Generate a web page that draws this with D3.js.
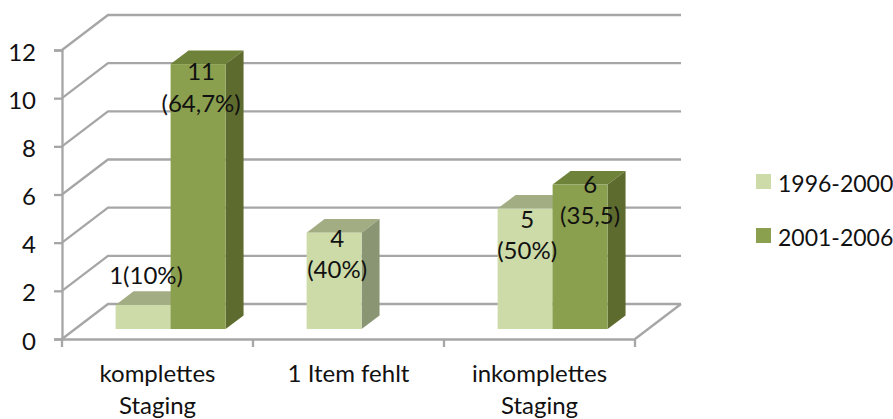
<!DOCTYPE html>
<html>
<head>
<meta charset="utf-8">
<script src="https://d3js.org/d3.v7.min.js"></script>
<style>
  html, body { margin: 0; padding: 0; background: #fff; }
  text { font-family: Lato, "Open Sans", sans-serif; font-size: 24px; fill: #111; }
  .legend text { font-size: 23px; }
</style>
</head>
<body>
<svg id="chart" width="893" height="419"></svg>
<script>
var categories = ["komplettes Staging", "1 Item fehlt", "inkomplettes Staging"];
var seriesNames = ["1996-2000", "2001-2006"];
var values1996 = [1, 4, 5];
var values2001 = [11, null, 6];
var labels1996 = [["1(10%)"], ["4", "(40%)"], ["5", "(50%)"]];
var labels2001 = [["11", "(64,7%)"], null, ["6", "(35,5)"]];
var yTicks = [0, 2, 4, 6, 8, 10, 12];

// colours per series: front, top, side
var colors = [
    { front: "#cddba9", top: "#a3ad84", side: "#8a9673" },
    { front: "#8ba04e", top: "#6e8339", side: "#5e6b2e" }
];
var gridColor = "#a6a6a6";

var svg = d3.select("#chart");

// front plane of the floor / wall
var x = d3.scaleBand().domain(categories).range([62, 635]);
var y = d3.scaleLinear().domain([0, 12]).range([339, 50]);

// fake 3d: depth vector from the front edge to the back wall
var depthX = 46, depthY = -35;
var barNear = 0.285, barFar = 0.675;
var gapWidth = 0.212; // share of the band left free on each side

var xBar = d3.scaleBand().domain([0, 1])
    .range([gapWidth * x.bandwidth(), (1 - gapWidth) * x.bandwidth()]);

function px(v, d) { return v + d * depthX; }
function py(v, d) { return y(v) + d * depthY; }

// gridlines: side wall diagonal + back wall
var grid = svg.append("g").attr("fill", "none").attr("stroke", gridColor).attr("stroke-width", 2.3);
yTicks.forEach(function (t) {
    grid.append("path")
        .attr("d", d3.line()([
            [x.range()[0], y(t)],
            [px(x.range()[0], 1), py(t, 1)],
            [px(x.range()[1], 1), py(t, 1)]
        ]));
});
// right edge of the floor
grid.append("path")
    .attr("d", d3.line()([[x.range()[1], y(0)], [px(x.range()[1], 1), py(0, 1)]]));

// y axis
var yAxis = svg.append("g")
    .attr("transform", "translate(" + x.range()[0] + ",0)")
    .call(d3.axisLeft(y).tickValues(yTicks).tickSize(8).tickPadding(18));
yAxis.selectAll(".domain, line").attr("stroke", gridColor).attr("stroke-width", 2.3);
yAxis.selectAll("text").attr("dy", "0.42em");

// x axis, ticks sit on the band edges
var xAxis = svg.append("g")
    .attr("transform", "translate(0," + y(0) + ")")
    .call(d3.axisBottom(x).tickSize(0).tickPadding(0));
xAxis.select(".domain").attr("stroke", gridColor).attr("stroke-width", 2.3);
d3.range(categories.length + 1).forEach(function (i) {
    xAxis.append("line")
        .attr("x1", x.range()[0] + i * x.step())
        .attr("x2", x.range()[0] + i * x.step())
        .attr("y1", 0).attr("y2", 8)
        .attr("stroke", gridColor).attr("stroke-width", 2.3);
});
xAxis.selectAll(".tick text").each(function (d) {
    var lines = d.split(" ");
    if (d == "1 Item fehlt") lines = [d];
    var t = d3.select(this).text(null).attr("y", null).attr("dy", null);
    lines.forEach(function (l, i) {
        t.append("tspan").attr("x", 0).attr("y", 43 + i * 32).text(l);
    });
});

// bars: draw one box for a series/category
function drawBar(g, cat, s, v) {
    var c = colors[s];
    var x0 = x(cat) + xBar(s);
    var x1 = x0 + xBar.bandwidth();
    var near = barNear, far = barFar;
    var fx0 = px(x0, near), fx1 = px(x1, near);
    var bx0 = px(x0, far), bx1 = px(x1, far);
    var top = py(v, near), base = py(0, near);
    var dTop = py(v, far), dBase = py(0, far);
    var line = d3.line();
    // top face
    g.append("path").attr("fill", c.top)
        .attr("d", line([[fx0, top], [bx0, dTop], [bx1, dTop], [fx1, top]]) + "Z");
    // side face
    g.append("path").attr("fill", c.side)
        .attr("d", line([[fx1, top], [bx1, dTop], [bx1, dBase], [fx1, base]]) + "Z");
    // front face
    g.append("rect").attr("fill", c.front)
        .attr("x", fx0).attr("y", top)
        .attr("width", fx1 - fx0).attr("height", base - top);
}

var bars = svg.append("g");
[values1996, values2001].forEach(function (vals, s) {
    categories.forEach(function (cat, i) {
        if (vals[i] != null) drawBar(bars, cat, s, vals[i]);
    });
});

// data labels, placed by hand like in the original chart
var labelNudge = [
    [[3, -21], [3, 14], [2, 19]],
    [[3, 16], null, [10, 8]]
];
var labelLayer = svg.append("g").attr("text-anchor", "middle");
[labels1996, labels2001].forEach(function (labs, s) {
    var vals = s == 0 ? values1996 : values2001;
    categories.forEach(function (cat, i) {
        if (!labs[i]) return;
        var cx = px(x(cat) + xBar(s) + xBar.bandwidth() / 2, barNear) + labelNudge[s][i][0];
        var cy = py(vals[i], barNear) + labelNudge[s][i][1];
        labs[i].forEach(function (l, k) {
            labelLayer.append("text").attr("x", cx).attr("y", cy + k * 31.5).text(l);
        });
    });
});

// legend
var legend = svg.append("g").attr("class", "legend").selectAll("g").data(seriesNames).enter().append("g")
    .attr("transform", function (d, i) { return "translate(756," + (174 + i * 54) + ")"; });
legend.append("rect").attr("width", 15).attr("height", 15)
    .attr("fill", function (d, i) { return colors[i].front; });
legend.append("text").attr("x", 22).attr("y", 18).text(function (d) { return d; });
</script>
</body>
</html>
